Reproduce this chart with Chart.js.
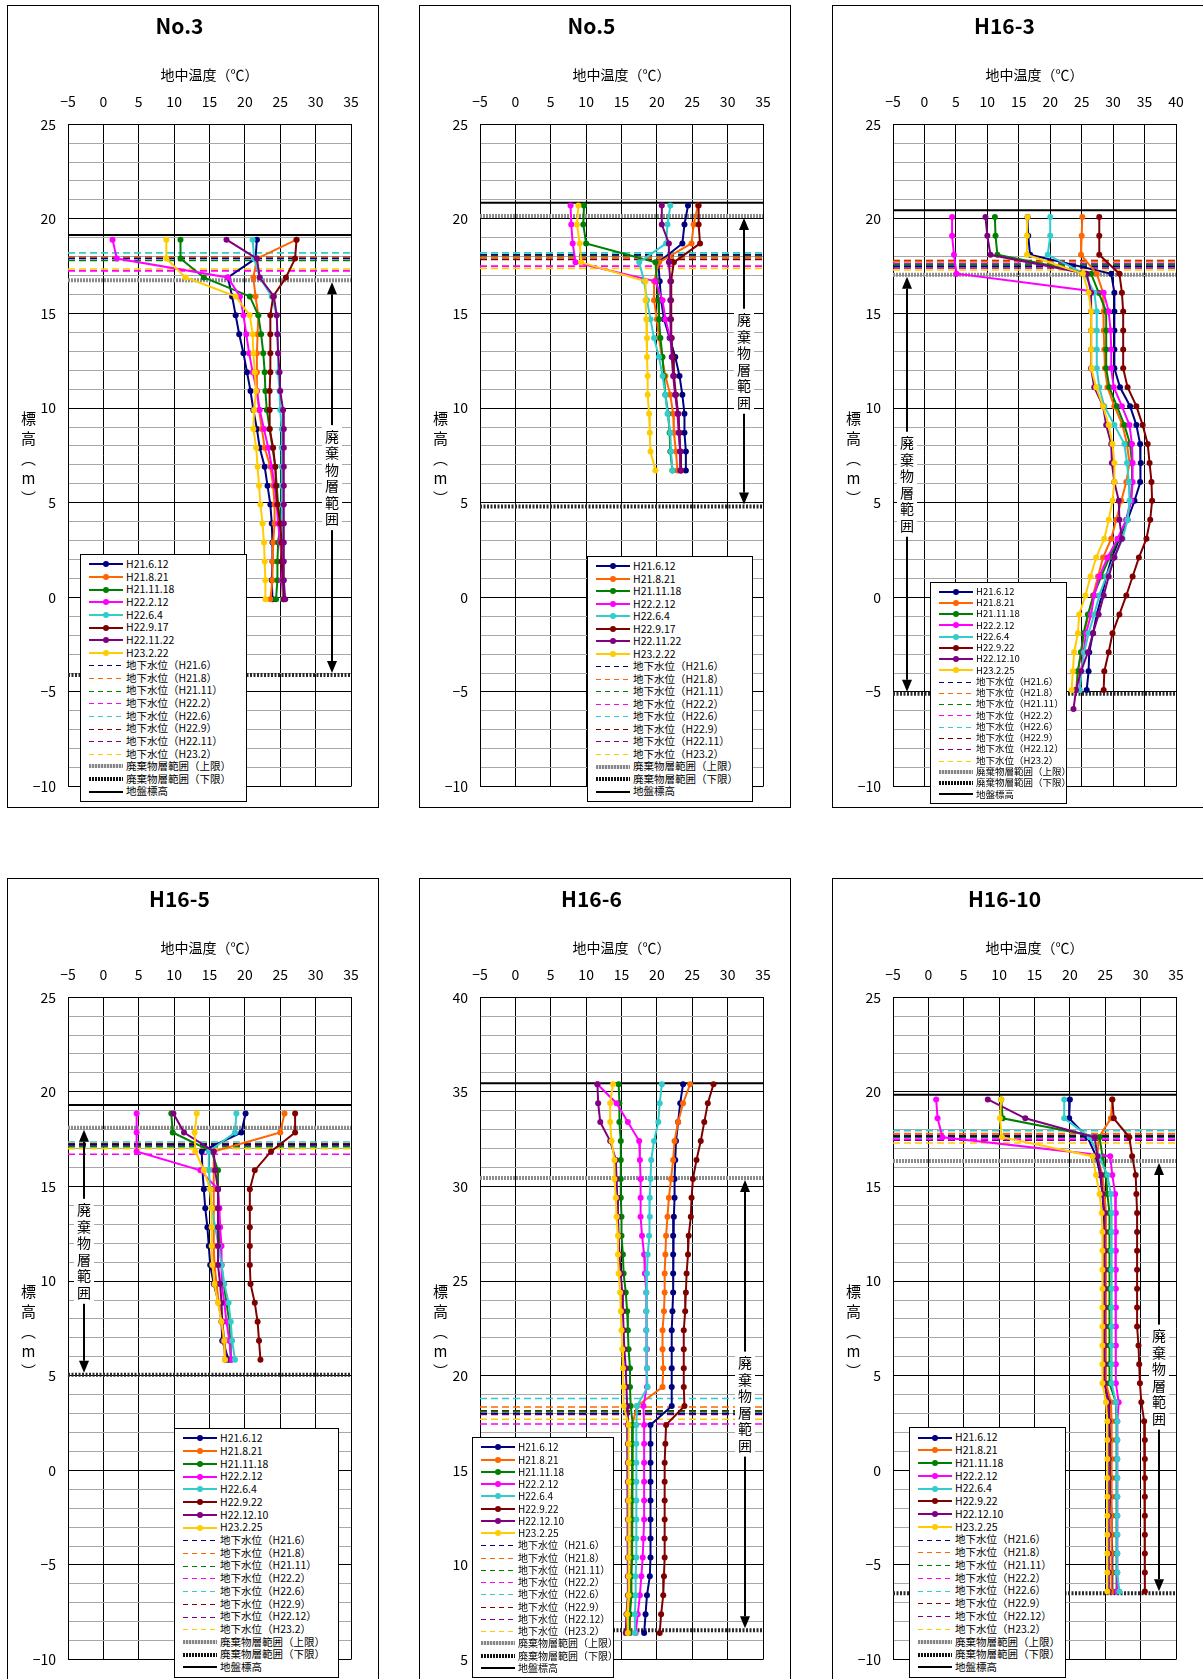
<!DOCTYPE html>
<html>
<head>
<meta charset="utf-8">
<script src="https://cdn.jsdelivr.net/npm/chart.js@4.4.0/dist/chart.umd.min.js"></script>
<style>
  body { margin: 0; background: #fff; font-family: 'Noto Sans CJK JP', sans-serif; }
  #page { position: relative; width: 1203px; height: 1679px; overflow: hidden; }
  .panel { position: absolute; width: 370px; height: 801px; border: 1px solid #000; background: #fff; }
  .panel canvas { position: absolute; left: 0; top: 0; }
  .ylab { position: absolute; left: 10px; top: 405px; writing-mode: vertical-rl; text-orientation: upright;
          font-size: 15px; letter-spacing: 5px; color: #000; }
  .legend { position: absolute; background: #fff; border: 1px solid #000; box-sizing: border-box;
            display: flex; flex-direction: column; justify-content: space-evenly; padding: 2px 0 2px 8px; }
  .legend div { display: flex; align-items: center; white-space: nowrap; line-height: 1; color: #000; }
  .sample { display: inline-block; position: relative; width: 34px; height: 8px; margin-right: 3px; flex: none; }
  .sample::before { content: ''; position: absolute; left: 0; right: 0; }
  .sample.series::before { top: 3px; height: 2px; background: var(--c); }
  .sample.series::after { content: ''; position: absolute; left: 14px; top: 1px; width: 6px; height: 6px;
                          border-radius: 50%; background: var(--c); }
  .sample.gw::before { top: 4px; height: 1px; background: repeating-linear-gradient(90deg, var(--c) 0 5px, transparent 5px 9px); }
  .sample.wtop::before { top: 2px; height: 4px; background: repeating-linear-gradient(90deg, #888 0 2px, #ddd 2px 3px); }
  .sample.wbot::before { top: 2px; height: 4px; background: repeating-linear-gradient(90deg, #111 0 2px, #fff 2px 3px); }
  .sample.ground::before { top: 3px; height: 2px; background: #000; }
</style>
</head>
<body>
<div id="page"></div>
<script>
// --- legend labels ---
const DATES_A = ['H21.6.12', 'H21.8.21', 'H21.11.18', 'H22.2.12', 'H22.6.4', 'H22.9.17', 'H22.11.22', 'H23.2.22'];
const DATES_B = ['H21.6.12', 'H21.8.21', 'H21.11.18', 'H22.2.12', 'H22.6.4', 'H22.9.22', 'H22.12.10', 'H23.2.25'];
const GW_A = ['地下水位（H21.6）', '地下水位（H21.8）', '地下水位（H21.11）', '地下水位（H22.2）',
              '地下水位（H22.6）', '地下水位（H22.9）', '地下水位（H22.11）', '地下水位（H23.2）'];
const GW_B = ['地下水位（H21.6）', '地下水位（H21.8）', '地下水位（H21.11）', '地下水位（H22.2）',
              '地下水位（H22.6）', '地下水位（H22.9）', '地下水位（H22.12）', '地下水位（H23.2）'];
const WASTE_TOP_LABEL = '廃棄物層範囲（上限）';
const WASTE_BOTTOM_LABEL = '廃棄物層範囲（下限）';
const GROUND_LABEL = '地盤標高';
const WASTE_TEXT = '廃棄物層範囲';
const X_TITLE = '地中温度（℃）';
const Y_TITLE = '標高（m）';

// --- No.3 ---
const no3Elev = [18.9, 17.9, 16.9, 15.9, 14.9, 13.9, 12.9, 11.9, 10.9, 9.9, 8.9, 7.9, 6.9, 5.9, 4.9, 3.9, 2.9, 1.9, 0.9, -0.1];
const no3Temps = [
  [21.7, 21.5, 17.6, 18.2, 18.7, 19.2, 19.8, 20.3, 20.8, 21.2, 21.7, 22.1, 22.8, 23.2, 23.6, 23.8, 23.9, 23.9, 23.8, 23.9],
  [27.3, 21.7, 21.2, 21.5, 21.9, 21.8, 21.7, 21.7, 21.7, 22.0, 22.4, 22.8, 23.6, 24.0, 24.2, 24.2, 24.0, 23.9, 23.9, 23.6],
  [10.9, 10.9, 14.2, 20.7, 21.9, 22.3, 22.6, 22.8, 22.9, 23.1, 23.5, 23.9, 24.3, 24.5, 24.7, 25.0, 24.7, 24.6, 24.6, 24.4],
  [1.3, 1.9, 17.6, 19.3, 19.8, 20.2, 20.6, 21.1, 21.7, 22.1, 22.7, 23.3, 23.8, 24.2, 24.5, 24.7, 25.0, 25.2, 25.2, 25.4],
  [21.1, 21.3, 22.1, 23.8, 24.5, 24.6, 24.7, 24.7, 24.9, 25.0, 25.2, 25.2, 25.2, 25.2, 25.2, 25.2, 25.4, 25.4, 25.4, 25.4],
  [27.3, 27.1, 25.8, 24.0, 23.6, 23.6, 23.6, 23.6, 23.5, 23.5, 23.5, 24.0, 24.3, 24.4, 24.6, 25.0, 25.2, 25.2, 25.4, 25.5],
  [17.4, 21.7, 22.1, 24.1, 24.5, 24.6, 24.7, 24.9, 25.0, 25.4, 25.5, 25.5, 25.5, 25.5, 25.5, 25.5, 25.5, 25.5, 25.5, 25.7],
  [8.9, 8.9, 11.6, 18.7, 20.7, 21.1, 21.2, 21.4, 21.6, 21.3, 21.2, 21.6, 21.8, 22.0, 22.2, 22.5, 22.7, 22.8, 22.9, 22.9]
];
const no3Gw = [17.9, 17.95, 17.8, 17.25, 18.2, 17.95, 17.95, 17.35];
const no3Waste = [16.75, -4.1];
const no3Ground = 19.15;

// --- No.5 ---
const no5Elev = [20.7, 19.7, 18.7, 17.7, 16.7, 15.7, 14.7, 13.7, 12.7, 11.7, 10.7, 9.7, 8.7, 7.7, 6.7];
const no5Temps = [
  [24.4, 23.9, 23.6, 20.2, 20.4, 20.6, 21.0, 21.8, 22.6, 23.2, 23.6, 23.9, 23.9, 24.1, 24.1],
  [25.8, 25.2, 24.9, 20.3, 19.6, 19.6, 20.0, 20.3, 20.7, 21.2, 21.9, 22.3, 22.4, 22.7, 22.9],
  [9.7, 9.6, 10.0, 19.8, 20.0, 20.2, 20.3, 20.5, 20.8, 21.0, 21.2, 21.6, 21.8, 21.9, 22.2],
  [7.8, 7.9, 8.1, 8.5, 19.8, 20.8, 21.2, 21.9, 22.2, 22.4, 22.6, 22.9, 23.1, 23.3, 23.4],
  [21.9, 21.5, 21.3, 17.5, 18.2, 18.6, 19.1, 19.6, 20.3, 20.8, 21.2, 21.5, 21.9, 22.0, 22.2],
  [25.9, 25.9, 26.1, 22.4, 22.0, 22.0, 22.0, 22.1, 22.3, 22.4, 22.7, 23.0, 23.2, 23.3, 23.4],
  [20.7, 20.7, 21.7, 21.7, 21.9, 21.9, 21.9, 22.0, 22.1, 22.3, 22.6, 23.0, 23.1, 23.3, 23.3],
  [8.9, 8.7, 9.1, 9.3, 18.4, 18.4, 18.5, 18.6, 18.6, 18.7, 18.7, 18.9, 19.0, 19.1, 19.8]
];
const no5Gw = [18.1, 17.95, 18.05, 17.5, 18.2, 17.85, 17.95, 17.38];
const no5Waste = [20.15, 4.8];
const no5Ground = 20.85;

// --- H16-3 ---
const h163Elev = [20.1, 19.1, 18.1, 17.1, 16.1, 15.1, 14.1, 13.1, 12.1, 11.1, 10.1, 9.1, 8.1, 7.1, 6.1, 5.1, 4.1, 3.1, 2.1, 1.1, 0.1, -0.9, -1.9, -2.9, -3.9, -4.9, -5.9];
const h163Temps = [
  [16.4, 16.5, 16.8, 29.7, 30.2, 30.2, 30.2, 30.2, 30.2, 31.1, 32.7, 33.7, 34.3, 34.4, 34.3, 33.4, 32.3, 31.0, 29.8, 28.9, 28.2, 27.4, 26.8, 26.2, 26.1, 25.8],
  [25.1, 25.0, 24.9, 27.4, 28.4, 28.5, 28.5, 28.6, 28.7, 29.1, 30.2, 31.5, 32.2, 32.6, 32.1, 31.3, 30.5, 29.7, 28.4, 27.6, 26.8, 26.1, 25.4, 24.9, 24.4, 24.1],
  [11.2, 11.3, 11.6, 26.5, 27.7, 28.9, 28.9, 28.9, 28.9, 29.4, 30.6, 31.8, 32.7, 33.0, 33.0, 32.8, 32.1, 30.9, 29.4, 28.1, 26.9, 26.0, 25.3, 24.9, 24.4, 24.2],
  [4.4, 4.4, 4.7, 5.1, 28.5, 29.3, 29.6, 29.7, 29.7, 30.1, 31.4, 32.6, 33.0, 33.1, 33.1, 32.9, 32.1, 30.7, 29.1, 27.8, 27.0, 26.5, 25.7, 25.3, 24.9, 24.6],
  [20.0, 20.0, 19.6, 25.4, 27.0, 27.4, 27.4, 27.4, 27.4, 27.8, 28.6, 30.2, 31.8, 32.2, 32.5, 32.6, 32.3, 31.5, 30.2, 28.9, 27.8, 27.0, 26.1, 25.4, 25.0, 24.7],
  [27.8, 27.8, 27.8, 31.0, 31.4, 31.6, 31.6, 31.6, 31.6, 32.3, 33.7, 34.7, 35.5, 35.8, 36.1, 36.2, 35.9, 35.3, 34.1, 33.1, 32.1, 31.0, 29.9, 29.3, 28.6, 28.5],
  [9.7, 10.0, 10.5, 25.8, 26.5, 26.5, 26.5, 26.5, 26.5, 27.0, 28.4, 28.9, 29.7, 29.8, 30.2, 30.9, 31.0, 31.4, 30.2, 29.3, 28.5, 27.7, 26.8, 26.0, 24.9, 24.1, 23.7],
  [16.4, 16.3, 16.3, 25.2, 26.1, 26.5, 26.5, 26.5, 26.6, 27.3, 28.4, 29.3, 29.9, 30.2, 30.2, 29.9, 29.3, 28.6, 27.3, 26.4, 25.6, 24.6, 24.4, 23.8, 23.6, 23.4]
];
const h163Gw = [17.5, 17.75, 17.6, 17.65, 17.6, 17.8, 17.4, 17.3];
const h163Waste = [17.05, -5.1];
const h163Ground = 20.45;

// --- H16-5 ---
const h165Elev = [18.85, 17.85, 16.85, 15.85, 14.85, 13.85, 12.85, 11.85, 10.85, 9.85, 8.85, 7.85, 6.85, 5.85];
const h165Temps = [
  [20.1, 19.5, 13.9, 14.0, 14.2, 14.4, 14.7, 14.9, 15.1, 15.6, 16.3, 16.7, 16.8, 17.7],
  [25.6, 25.0, 15.6, 15.6, 15.6, 15.6, 15.6, 15.6, 15.7, 16.0, 16.3, 16.7, 17.0, 17.2],
  [9.6, 9.8, 15.3, 16.2, 16.2, 16.3, 16.4, 16.5, 16.7, 17.0, 17.4, 17.8, 17.9, 18.0],
  [4.7, 4.7, 4.7, 13.7, 16.2, 16.4, 16.5, 16.7, 16.7, 16.7, 17.1, 17.4, 17.8, 18.1],
  [18.8, 18.6, 14.9, 14.9, 15.1, 15.3, 15.8, 16.3, 16.7, 17.1, 17.7, 18.0, 18.2, 18.6],
  [27.1, 27.1, 23.7, 21.4, 20.7, 20.7, 20.7, 20.7, 20.7, 20.8, 21.4, 21.8, 22.0, 22.2],
  [9.9, 11.4, 15.6, 15.8, 16.2, 16.2, 16.2, 16.2, 16.2, 16.5, 16.7, 16.8, 17.1, 17.4],
  [13.2, 12.9, 13.0, 14.2, 15.1, 15.3, 15.3, 15.3, 15.4, 15.7, 16.2, 16.7, 17.1, 17.2]
];
const h165Gw = [17.2, 17.2, 17.1, 16.7, 17.35, 17.25, 17.15, 17.0];
const h165Waste = [18.1, 5.05];
const h165Ground = 19.3;

// --- H16-6 ---
const h166Elev = [35.4, 34.4, 33.4, 32.4, 31.4, 30.4, 29.4, 28.4, 27.4, 26.4, 25.4, 24.4, 23.4, 22.4, 21.4, 20.4, 19.4, 18.4, 17.4, 16.4, 15.4, 14.4, 13.4, 12.4, 11.4, 10.4, 9.4, 8.4, 7.4, 6.4];
const h166Temps = [
  [23.7, 23.3, 23.0, 22.7, 22.6, 22.5, 22.5, 22.4, 22.3, 22.3, 22.3, 22.3, 22.2, 22.1, 22.1, 22.1, 22.1, 22.1, 19.1, 19.1, 19.1, 19.1, 19.1, 19.1, 19.1, 19.1, 19.0, 18.6, 18.4, 18.2],
  [24.7, 23.7, 23.0, 22.5, 22.3, 22.0, 21.7, 21.5, 21.3, 21.2, 21.1, 21.1, 21.0, 20.8, 20.8, 20.9, 20.8, 17.2, 16.5, 16.5, 16.5, 16.5, 16.4, 16.4, 16.4, 16.4, 16.3, 16.3, 16.1, 16.2],
  [14.6, 14.7, 14.7, 14.9, 14.9, 14.9, 14.9, 15.0, 15.0, 15.2, 15.3, 15.6, 15.8, 15.9, 16.0, 16.2, 16.2, 16.3, 16.6, 16.5, 16.5, 16.5, 16.5, 16.5, 16.5, 16.5, 16.4, 16.4, 16.2, 16.1],
  [11.6, 14.3, 15.9, 17.5, 17.6, 17.7, 17.7, 17.7, 17.9, 18.2, 18.3, 18.5, 18.5, 18.5, 18.6, 18.6, 18.6, 18.1, 18.2, 18.2, 18.2, 18.2, 18.2, 18.2, 18.1, 18.0, 17.8, 17.6, 17.3, 17.0],
  [20.7, 20.4, 20.2, 19.6, 19.2, 19.1, 19.0, 19.0, 18.9, 18.7, 18.6, 18.5, 18.5, 18.5, 18.5, 18.6, 18.7, 17.2, 17.1, 17.1, 17.1, 17.1, 17.1, 17.1, 17.1, 17.1, 17.0, 17.0, 16.9, 16.9],
  [28.0, 27.2, 26.7, 26.2, 25.6, 25.1, 24.9, 24.8, 24.5, 24.4, 24.2, 24.1, 24.0, 23.8, 23.8, 23.8, 23.8, 23.9, 21.3, 21.2, 21.1, 21.1, 21.1, 21.1, 21.1, 21.1, 21.0, 20.9, 20.6, 20.4],
  [11.6, 11.7, 12.0, 13.4, 14.2, 14.3, 14.4, 14.5, 14.6, 14.7, 14.9, 15.1, 15.2, 15.3, 15.4, 15.6, 15.7, 15.8, 15.9, 15.9, 15.9, 15.9, 15.9, 15.9, 15.9, 15.9, 15.9, 15.9, 15.7, 15.6],
  [13.8, 13.4, 13.4, 13.6, 14.0, 14.0, 14.2, 14.3, 14.5, 14.5, 14.6, 14.8, 14.9, 15.0, 15.1, 15.2, 15.3, 15.3, 16.0, 16.0, 16.0, 16.0, 16.0, 16.0, 16.0, 16.0, 16.0, 16.0, 15.8, 15.9]
];
const h166Gw = [18.0, 18.35, 18.1, 17.45, 18.8, 18.15, 17.95, 17.7];
const h166Waste = [30.45, 6.55];
const h166Ground = 35.45;

// --- H16-10 ---
const h1610Elev = [19.6, 18.6, 17.6, 16.6, 15.6, 14.6, 13.6, 12.6, 11.6, 10.6, 9.6, 8.6, 7.6, 6.6, 5.6, 4.6, 3.6, 2.6, 1.6, 0.6, -0.4, -1.4, -2.4, -3.4, -4.4, -5.4, -6.4];
const h1610Temps = [
  [20.0, 19.9, 22.5, 23.7, 24.3, 24.6, 24.8, 24.9, 24.9, 24.9, 24.9, 24.9, 24.9, 24.9, 24.9, 24.9, 25.6, 25.6, 25.7, 25.7, 25.8, 25.8, 25.9, 25.9, 26.0, 26.0, 26.0],
  [26.0, 25.8, 24.1, 23.9, 24.6, 24.9, 25.1, 25.1, 25.1, 25.1, 25.1, 25.1, 25.1, 25.1, 25.1, 25.1, 25.8, 25.9, 25.9, 25.9, 25.9, 25.9, 25.9, 25.9, 25.9, 25.9, 25.9],
  [10.3, 10.5, 24.2, 24.6, 25.1, 25.3, 25.6, 25.6, 25.6, 25.6, 25.6, 25.6, 25.6, 25.6, 25.6, 25.6, 26.5, 26.6, 26.6, 26.6, 26.6, 26.6, 26.6, 26.6, 26.6, 26.6, 26.6],
  [1.1, 1.3, 2.0, 25.7, 26.0, 26.4, 26.5, 26.5, 26.5, 26.5, 26.5, 26.5, 26.5, 26.5, 26.5, 26.5, 26.9, 26.7, 26.7, 26.7, 26.7, 26.7, 26.7, 26.7, 26.7, 26.7, 26.7],
  [19.2, 19.2, 22.8, 24.1, 25.3, 25.8, 25.9, 25.9, 25.9, 25.9, 25.9, 25.9, 25.9, 25.9, 25.9, 25.9, 26.5, 26.7, 26.7, 26.7, 26.7, 26.7, 26.7, 26.7, 26.7, 26.7, 27.0],
  [26.0, 26.2, 28.4, 28.8, 29.3, 29.4, 29.5, 29.5, 29.5, 29.5, 29.5, 29.5, 29.5, 29.7, 29.8, 29.9, 30.1, 30.5, 30.6, 30.6, 30.6, 30.6, 30.6, 30.6, 30.6, 30.6, 30.6],
  [8.4, 13.7, 23.5, 23.9, 24.4, 24.6, 24.9, 24.9, 24.9, 24.9, 24.9, 24.9, 24.9, 24.9, 24.9, 24.9, 25.4, 25.5, 25.5, 25.5, 25.5, 25.5, 25.5, 25.5, 25.5, 25.5, 25.5],
  [10.3, 10.1, 10.4, 23.2, 23.7, 24.2, 24.5, 24.6, 24.6, 24.6, 24.6, 24.6, 24.6, 24.6, 24.6, 24.6, 25.1, 25.3, 25.3, 25.3, 25.3, 25.3, 25.3, 25.3, 25.3, 25.3, 25.3]
];
const h1610Gw = [17.65, 17.8, 17.6, 17.5, 17.95, 17.7, 17.45, 17.3];
const h1610Waste = [16.35, -6.5];
const h1610Ground = 19.85;

const COLORS = ['#000080', '#ff6600', '#008000', '#ff00ff', '#33cccc', '#800000', '#800080', '#ffcc00'];
const FONT = "'Noto Sans CJK JP', sans-serif";

const PANELS = [
  { title: 'No.3', left: 7, top: 5, xMax: 35, yMin: -10, yMax: 25, elev: no3Elev, temps: no3Temps,
    dates: DATES_A, gwLabels: GW_A, gw: no3Gw, waste: no3Waste, ground: no3Ground, arrowX: 32.3,
    legend: { left: 72, top: 548, width: 167, height: 248, font: 10.5 } },
  { title: 'No.5', left: 419, top: 5, xMax: 35, yMin: -10, yMax: 25, elev: no5Elev, temps: no5Temps,
    dates: DATES_A, gwLabels: GW_A, gw: no5Gw, waste: no5Waste, ground: no5Ground, arrowX: 32.3,
    legend: { left: 167, top: 550, width: 166, height: 246, font: 10.5 } },
  { title: 'H16-3', left: 832, top: 5, xMax: 40, yMin: -10, yMax: 25, elev: h163Elev, temps: h163Temps,
    dates: DATES_B, gwLabels: GW_B, gw: h163Gw, waste: h163Waste, ground: h163Ground, arrowX: -2.7,
    legend: { left: 97, top: 576, width: 137, height: 222, font: 9.5 } },
  { title: 'H16-5', left: 7, top: 878, xMax: 35, yMin: -10, yMax: 25, elev: h165Elev, temps: h165Temps,
    dates: DATES_B, gwLabels: GW_B, gw: h165Gw, waste: h165Waste, ground: h165Ground, arrowX: -2.7,
    legend: { left: 166, top: 549, width: 165, height: 250, font: 10.5 } },
  { title: 'H16-6', left: 419, top: 878, xMax: 35, yMin: 5, yMax: 40, elev: h166Elev, temps: h166Temps,
    dates: DATES_B, gwLabels: GW_B, gw: h166Gw, waste: h166Waste, ground: h166Ground, arrowX: 32.4,
    legend: { left: 52, top: 558, width: 142, height: 241, font: 10 } },
  { title: 'H16-10', left: 832, top: 878, xMax: 35, yMin: -10, yMax: 25, elev: h1610Elev, temps: h1610Temps,
    dates: DATES_B, gwLabels: GW_B, gw: h1610Gw, waste: h1610Waste, ground: h1610Ground, arrowX: 32.6,
    legend: { left: 76, top: 548, width: 157, height: 251, font: 10.5 } }
];

Chart.defaults.font.family = FONT;
Chart.defaults.color = '#000';

const fmt = v => (v < 0 ? '−' + Math.abs(v) : String(v));

// arrow + vertical label for the waste layer range
const wasteArrow = {
  id: 'wasteArrow',
  afterDatasetsDraw(chart, args, o) {
    const { ctx, scales } = chart;
    const x = Math.round(scales.x.getPixelForValue(o.x));
    const yTop = scales.y.getPixelForValue(o.top);
    const yBot = scales.y.getPixelForValue(o.bottom);
    const ah = 14, aw = 5;
    ctx.save();
    ctx.strokeStyle = '#000';
    ctx.fillStyle = '#000';
    ctx.lineWidth = 2;
    ctx.beginPath();
    ctx.moveTo(x, yTop + ah);
    ctx.lineTo(x, yBot - ah);
    ctx.stroke();
    ctx.beginPath();
    ctx.moveTo(x, yTop + 2); ctx.lineTo(x - aw, yTop + ah); ctx.lineTo(x + aw, yTop + ah);
    ctx.closePath(); ctx.fill();
    ctx.beginPath();
    ctx.moveTo(x, yBot - 2); ctx.lineTo(x - aw, yBot - ah); ctx.lineTo(x + aw, yBot - ah);
    ctx.closePath(); ctx.fill();
    const chars = [...o.text];
    const lh = 16.5;
    const h = chars.length * lh + 6;
    const mid = (yTop + yBot) / 2;
    ctx.fillStyle = '#fff';
    ctx.fillRect(x - 10, mid - h / 2, 20, h);
    ctx.fillStyle = '#000';
    ctx.font = '14px ' + FONT;
    ctx.textAlign = 'center';
    ctx.textBaseline = 'middle';
    chars.forEach((c, i) => ctx.fillText(c, x, mid - h / 2 + 3 + lh * (i + 0.5)));
    ctx.restore();
  }
};

function hline(label, yv, xMin, xMax, color, width, dash, order) {
  return {
    label, data: [{ x: xMin, y: yv }, { x: xMax, y: yv }],
    borderColor: color, borderWidth: width, borderDash: dash,
    pointRadius: 0, showLine: true, order
  };
}

function buildLegend(p, host) {
  const L = p.legend;
  const box = document.createElement('div');
  box.className = 'legend';
  Object.assign(box.style, { left: L.left + 'px', top: L.top + 'px', width: L.width + 'px',
    height: L.height + 'px', fontSize: L.font + 'px' });
  const rows = [];
  p.dates.forEach((d, i) => rows.push({ text: d, cls: 'series', c: COLORS[i] }));
  p.gwLabels.forEach((g, i) => rows.push({ text: g, cls: 'gw', c: COLORS[i] }));
  rows.push({ text: WASTE_TOP_LABEL, cls: 'wtop' });
  rows.push({ text: WASTE_BOTTOM_LABEL, cls: 'wbot' });
  rows.push({ text: GROUND_LABEL, cls: 'ground' });
  rows.forEach(r => {
    const row = document.createElement('div');
    const s = document.createElement('span');
    s.className = 'sample ' + r.cls;
    if (r.c) s.style.setProperty('--c', r.c);
    row.appendChild(s);
    row.appendChild(document.createTextNode(r.text));
    box.appendChild(row);
  });
  host.appendChild(box);
}

function makePanel(p) {
  const page = document.getElementById('page');
  const div = document.createElement('div');
  div.className = 'panel';
  div.style.left = p.left + 'px';
  div.style.top = p.top + 'px';
  const cv = document.createElement('canvas');
  cv.width = 370;
  cv.height = 801;
  div.appendChild(cv);
  const yl = document.createElement('div');
  yl.className = 'ylab';
  yl.textContent = Y_TITLE;
  div.appendChild(yl);
  page.appendChild(div);

  const xMin = -5;
  const datasets = p.dates.map((d, i) => ({
    label: d,
    data: p.temps[i].map((t, k) => ({ x: t, y: p.elev[k] })),
    borderColor: COLORS[i], backgroundColor: COLORS[i],
    borderWidth: 2, pointRadius: 3, pointBorderWidth: 0, showLine: true, order: -i
  }));
  p.gw.forEach((g, i) => datasets.push(hline(p.gwLabels[i], g, xMin, p.xMax, COLORS[i], 1.6, [7, 4], 5)));
  datasets.push(hline(WASTE_TOP_LABEL, p.waste[0], xMin, p.xMax, '#8c8c8c', 4, [2, 1], 6));
  datasets.push(hline(WASTE_BOTTOM_LABEL, p.waste[1], xMin, p.xMax, '#2a2a2a', 4, [2, 1.5], 6));
  datasets.push(hline(GROUND_LABEL, p.ground, xMin, p.xMax, '#000', 2, [], 6));

  new Chart(cv, {
    type: 'scatter',
    data: { datasets },
    plugins: [wasteArrow],
    options: {
      responsive: false,
      animation: false,
      events: [],
      layout: { padding: { left: 0, right: 27, top: 0, bottom: 11 } },
      plugins: {
        legend: { display: false },
        tooltip: { enabled: false },
        title: { display: true, text: p.title, color: '#000',
                 font: { size: 21, weight: 'bold', family: FONT }, padding: { top: 7, bottom: 11 } },
        wasteArrow: { x: p.arrowX, top: p.waste[0], bottom: p.waste[1], text: WASTE_TEXT }
      },
      scales: {
        x: {
          type: 'linear', position: 'top', min: xMin, max: p.xMax,
          afterFit: s => { s.height = 75; },
          ticks: { stepSize: 5, color: '#000', font: { size: 14 }, padding: 14, callback: fmt, maxRotation: 0 },
          grid: { color: '#000', drawTicks: false },
          border: { color: '#000' },
          title: { display: true, text: X_TITLE, color: '#000', font: { size: 14 }, padding: { top: 17, bottom: 0 } }
        },
        y: {
          type: 'linear', min: p.yMin, max: p.yMax,
          afterFit: s => { s.width = 60; },
          ticks: { stepSize: 1, autoSkip: false, color: '#000', font: { size: 14 }, padding: 12,
                   callback: v => (v % 5 === 0 ? fmt(v) : '') },
          grid: { drawTicks: false, color: c => (c.tick && c.tick.value % 5 === 0 ? '#000' : '#a8a8a8') },
          border: { color: '#000' }
        }
      }
    }
  });
  buildLegend(p, div);
}

PANELS.forEach(makePanel);
</script>
</body>
</html>
